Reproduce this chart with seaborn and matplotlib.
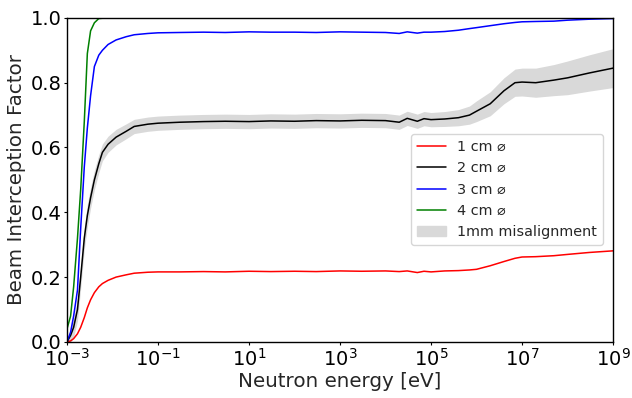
import numpy as np
import pandas as pd
import matplotlib
matplotlib.use("Agg")
import matplotlib.pyplot as plt
import seaborn as sns

energy = [1.0e-3, 1.2e-3, 1.4e-3, 1.7e-3, 2.0e-3, 2.4e-3, 2.8e-3, 3.3e-3, 4.0e-3,
          5.0e-3, 6.0e-3, 8.0e-3, 1.2e-2, 2e-2, 3e-2, 6e-2, 1e-1, 3e-1, 1, 3, 10,
          30, 100, 300, 1e3, 3e3, 1e4, 2e4, 3e4, 5e4, 7e4, 1e5, 2e5, 4e5, 7e5,
          1e6, 2e6, 4e6, 7e6, 1e7, 2e7, 5e7, 1e8, 3e8, 1e9]

bif_1cm = [0.0, 0.003, 0.01, 0.025, 0.045, 0.075, 0.105, 0.13, 0.152,
           0.17, 0.18, 0.19, 0.2, 0.207, 0.212, 0.215, 0.216, 0.216, 0.217, 0.216, 0.218,
           0.217, 0.218, 0.217, 0.219, 0.218, 0.219, 0.217, 0.219, 0.214, 0.218, 0.216,
           0.219, 0.22, 0.222, 0.224, 0.235, 0.248, 0.258, 0.262, 0.263, 0.266, 0.27,
           0.276, 0.281]

bif_2cm = [0.0, 0.02, 0.045, 0.1, 0.2, 0.32, 0.39, 0.445, 0.5,
           0.55, 0.585, 0.61, 0.632, 0.65, 0.665, 0.672, 0.675, 0.678, 0.68, 0.681, 0.68,
           0.682, 0.681, 0.683, 0.682, 0.684, 0.683, 0.678, 0.69, 0.681, 0.689, 0.686,
           0.688, 0.692, 0.70, 0.712, 0.735, 0.775, 0.80, 0.802, 0.80, 0.808, 0.815,
           0.83, 0.845]

band_2cm = [0.005, 0.02, 0.03, 0.035, 0.035, 0.035, 0.035, 0.032, 0.03,
            0.028, 0.026, 0.025, 0.024, 0.023, 0.022, 0.022, 0.022, 0.022, 0.022, 0.022, 0.022,
            0.022, 0.022, 0.022, 0.022, 0.022, 0.022, 0.022, 0.022, 0.022, 0.022, 0.022,
            0.023, 0.025, 0.028, 0.032, 0.037, 0.04, 0.042, 0.043, 0.045, 0.048, 0.052,
            0.056, 0.06]

bif_3cm = [0.0, 0.03, 0.08, 0.16, 0.35, 0.54, 0.66, 0.76, 0.85,
           0.885, 0.9, 0.918, 0.932, 0.942, 0.948, 0.952, 0.954, 0.955, 0.956, 0.955, 0.957,
           0.956, 0.956, 0.955, 0.957, 0.956, 0.955, 0.952, 0.957, 0.953, 0.956, 0.956,
           0.958, 0.962, 0.967, 0.97, 0.976, 0.982, 0.986, 0.988, 0.989, 0.99, 0.993,
           0.996, 0.998]

bif_4cm = [0.04, 0.08, 0.17, 0.32, 0.47, 0.68, 0.89, 0.96, 0.985,
           0.998, 0.999, 1.0, 1.0, 1.0, 1.0, 1.0, 1.0, 1.0, 1.0, 1.0, 1.0,
           1.0, 1.0, 1.0, 1.0, 1.0, 1.0, 1.0, 1.0, 1.0, 1.0, 1.0,
           1.0, 1.0, 1.0, 1.0, 1.0, 1.0, 1.0, 1.0, 1.0, 1.0, 1.0,
           1.0, 1.0]

labels = ["1 cm ⌀", "2 cm ⌀", "3 cm ⌀", "4 cm ⌀"]
colors = ["red", "black", "blue", "green"]
band_label = "1mm misalignment"

sns.set_style("ticks")
plt.rcParams['font.family'] = ['DejaVu Sans']

fig, ax = plt.subplots(figsize=(6.32, 3.98), dpi=100)
fig.subplots_adjust(left=0.106, right=0.970, top=0.955, bottom=0.141)

df = pd.DataFrame({
    "energy": energy * 4,
    "bif": bif_1cm + bif_2cm + bif_3cm + bif_4cm,
    "size": sum([[l] * len(energy) for l in labels], []),
})

e = np.array(energy)
b2 = np.array(bif_2cm)
w2 = np.array(band_2cm)
ax.fill_between(e, b2 - w2, b2 + w2, color="#d9d9d9", linewidth=0, label=band_label)

sns.lineplot(data=df, x="energy", y="bif", hue="size", palette=colors,
             hue_order=labels, linewidth=1.1, ax=ax, legend=False)

ax.set_xscale("log")
ax.set_xlim(1e-3, 1e9)
ax.set_ylim(0, 1.0)
ax.set_xticks([1e-3, 1e-1, 1e1, 1e3, 1e5, 1e7, 1e9])
ax.xaxis.set_minor_locator(matplotlib.ticker.NullLocator())
ax.set_yticks([0.0, 0.2, 0.4, 0.6, 0.8, 1.0])
ax.tick_params(labelsize=14, length=2, width=0.8, pad=2, colors="black")
ax.set_xlabel("Neutron energy [eV]", fontsize=14.3, labelpad=2)
ax.set_ylabel("Beam Interception Factor", fontsize=14.3, labelpad=3)
for s in ax.spines.values():
    s.set_color("black")
    s.set_linewidth(1.0)

handles = [matplotlib.lines.Line2D([], [], color=c, lw=1.1) for c in colors]
handles.append(matplotlib.patches.Patch(color="#d9d9d9"))
ax.legend(handles, labels + [band_label], loc="center right",
          bbox_to_anchor=(0.995, 0.47), fontsize=10.4, frameon=True)

fig.savefig("out.png", dpi=100)
